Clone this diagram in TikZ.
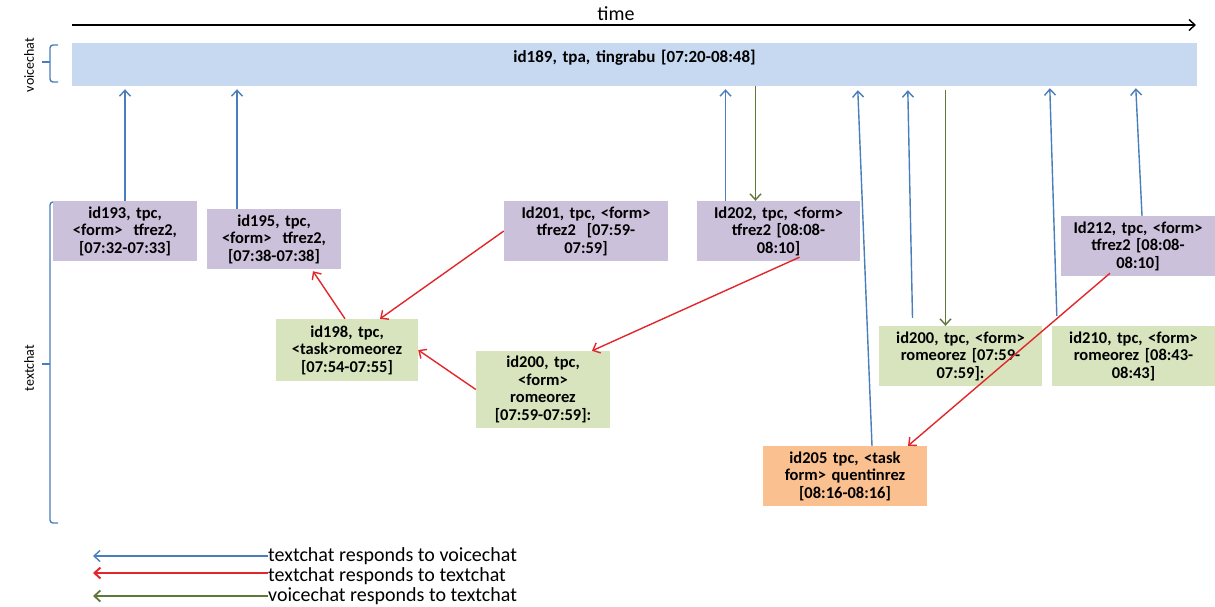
\documentclass[tikz,border=0pt]{standalone}
\usepackage{fontspec}
\setmainfont{Carlito}
\usepackage{xcolor}
\definecolor{BarBlue}{HTML}{C6D9F1}
\definecolor{BoxPurple}{HTML}{CCC1DA}
\definecolor{BoxGreen}{HTML}{D7E4BD}
\definecolor{BoxOrange}{HTML}{FAC090}
\definecolor{LineBlue}{HTML}{4A7EBB}
\definecolor{LineRed}{HTML}{E3262B}
\definecolor{LineOlive}{HTML}{61773A}
\usepackage{tikz}
\usetikzlibrary{arrows.meta, positioning}
\tikzset{
  box/.style={
    rectangle, text width=#1, align=center,
    inner sep=0pt, minimum height=60pt,
    font=\fontsize{16.5}{17.5}\selectfont\bfseries
  },
  box/.default=144pt,
  txt/.style={font=\fontsize{20}{20}\selectfont, inner sep=0pt},
  side/.style={font=\fontsize{14}{15}\selectfont, inner sep=0pt, rotate=90},
  vArr/.style={-{Straight Barb[length=6pt, width=11pt]}, line width=1.4pt, color=LineBlue},
  tArr/.style={-{Straight Barb[length=6pt, width=11pt]}, line width=1.4pt, color=LineRed},
  cArr/.style={-{Straight Barb[length=6pt, width=11pt]}, line width=1.4pt, color=LineOlive},
  brk/.style={line width=1.4pt, color=LineBlue, rounded corners=3pt},
}

\begin{document}
\begin{tikzpicture}[x=1pt, y=-1pt]
\useasboundingbox (0,0) rectangle (1215,606);

% time axis and voicechat bar
\coordinate (t0) at (72,25);
\coordinate (t1) at (1196,25);
\draw[-{Straight Barb[length=6pt, width=11pt]}, line width=1.4pt] (t0) -- node[txt, above=4pt, pos=0.484] (time) {time} (t1);

\node[fill=BarBlue, minimum width=1125pt, minimum height=43pt, inner sep=0pt] at (634.5,64.5) (bar) {};
\node[box=400pt, minimum height=0pt, below=7pt of bar.north, font=\fontsize{17}{18}\selectfont\bfseries] (vc) {id189, tpa, tingrabu [07:20-08:48]};

\draw[brk] (58,45) -- (50,45) -- (50,82) -- (58,82);
\draw[brk] (50,62) -- (42,62);
\node[side] at (29,65) (vlabel) {voicechat};

\draw[brk] (58,202) -- (50,202) -- (50,523) -- (58,523);
\draw[brk] (50,364) -- (42,364);
\node[side] at (29,368) (tlabel) {textchat};

% textchat boxes
\node[box=144pt, fill=BoxPurple] at (125,231) (b193) {id193, tpc,\\ <form>\ \ tfrez2,\\{}[07:32-07:33]};
\node[box=134pt, fill=BoxPurple] at (274,239) (b195) {id195, tpc,\\ <form>\ \ tfrez2,\\{}[07:38-07:38]};
\node[box=164pt, fill=BoxPurple] at (586,231) (b201) {Id201, tpc, <form>\\ tfrez2\ \ [07:59-\\ 07:59]};
\node[box=163pt, fill=BoxPurple] at (778.5,231) (b202) {Id202, tpc, <form>\\ tfrez2 [08:08-\\ 08:10]};
\node[box=154pt, fill=BoxPurple] at (1138,246) (b212) {Id212, tpc, <form>\\ tfrez2 [08:08-\\ 08:10]};

\node[box=142pt, fill=BoxGreen, minimum height=62pt] at (347,350) (g198) {id198, tpc,\\ <task>romeorez\\{}[07:54-07:55]};
\node[box=134pt, fill=BoxGreen, minimum height=77pt] at (543,389.5) (g200a) {id200, tpc,\\ <form>\\ romeorez\\{}[07:59-07:59]:};
\node[box=163pt, fill=BoxGreen] at (960.5,356) (g200b) {id200, tpc, <form>\\ romeorez [07:59-\\ 07:59]:};
\node[box=163pt, fill=BoxGreen] at (1133.5,356) (g210) {id210, tpc, <form>\\ romeorez [08:43-\\ 08:43]};

\node[box=164pt, fill=BoxOrange] at (845,476) (o205) {id205 tpc, <task\\ form> quentinrez\\{}[08:16-08:16]};

% textchat responds to voicechat
\draw[vArr] (b193.north) -- ([yshift=-3pt]b193.north |- bar.south);
\draw[vArr] ([xshift=-37pt]b195.north) -- ([xshift=-37pt, yshift=-3pt]b195.north |- bar.south);
\draw[vArr] ([xshift=-53pt]b202.north) -- ([xshift=-53pt, yshift=-3pt]b202.north |- bar.south);
\draw[vArr] ([xshift=27pt]o205.north) -- ([xshift=786pt, yshift=-4pt]bar.south west);
\draw[vArr] ([xshift=-48pt, yshift=8pt]g200b.north) -- ([xshift=836pt, yshift=-4pt]bar.south west);
\draw[vArr] ([xshift=5pt, yshift=10pt]g210.north west) -- ([xshift=978pt, yshift=-2pt]bar.south west);
\draw[vArr] ([xshift=4pt]b212.north) -- ([xshift=1064pt, yshift=-2pt]bar.south west);

% voicechat responds to textchat
\draw[cArr] ([xshift=-23pt]b202.north |- bar.south) -- ([xshift=-23pt]b202.north);
\draw[cArr] ([xshift=-15pt, yshift=-4pt]g200b.north |- bar.south) -- ([xshift=-15pt]g200b.north);

% textchat responds to textchat
\draw[tArr] (b201.west) -- ([xshift=33pt]g198.north);
\draw[tArr] ([xshift=-2pt]g198.north) -- ([xshift=39pt, yshift=-2pt]b195.south);
\draw[tArr] (g200a.west) -- (g198.east);
\draw[tArr] ([xshift=21pt, yshift=4pt]b202.south) -- ([xshift=49pt]g200a.north);
\draw[tArr] ([xshift=-28pt, yshift=3pt]b212.south) -- ([xshift=63pt]o205.north);

% legend
\node[txt, anchor=west] at (268,556) (lg1) {textchat responds to voicechat};
\node[txt, anchor=west] at (268,576) (lg2) {textchat responds to textchat};
\node[txt, anchor=west] at (268,596) (lg3) {voicechat responds to textchat};
\coordinate (la) at (93,556);
\coordinate (lb) at (93,573);
\coordinate (lc) at (93,596);
\draw[vArr] (lg1.west) -- (la);
\draw[tArr, line width=2pt] ([yshift=3pt]lg2.west) -- (lb);
\draw[cArr, line width=1.8pt] (lg3.west) -- (lc);

\end{tikzpicture}
\end{document}
